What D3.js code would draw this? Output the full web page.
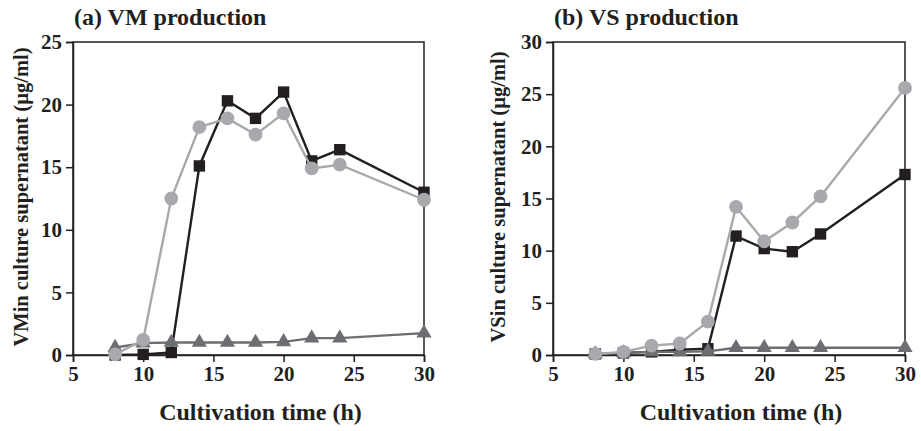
<!DOCTYPE html>
<html>
<head>
<meta charset="utf-8">
<script src="https://cdn.jsdelivr.net/npm/d3@7"></script>
<style>
  body { margin: 0; background: #fff; }
  svg text { font-family: "Liberation Serif", "Times New Roman", serif; font-weight: bold; fill: #231f20; }
</style>
</head>
<body>
<div id="chart"></div>
<script>
// Cultivation times (h)
var times = [8, 10, 12, 14, 16, 18, 20, 22, 24, 30];

// (a) VM production
var vmSquare = [0, 0.05, 0.2, 15.1, 20.3, 18.9, 21.0, 15.5, 16.4, 13.0];
var vmCircle = [0.05, 1.2, 12.5, 18.2, 18.9, 17.6, 19.3, 14.9, 15.2, 12.4];
var vmTriangle = [0.6, 0.95, 1.0, 1.0, 1.0, 1.0, 1.05, 1.35, 1.35, 1.75];

// (b) VS production
var vsSquare = [0.1, 0.2, 0.3, 0.5, 0.6, 11.4, 10.2, 9.9, 11.6, 17.3];
var vsCircle = [0.1, 0.3, 0.9, 1.1, 3.2, 14.2, 10.9, 12.7, 15.2, 25.6];
var vsTriangle = [0.1, 0.2, 0.3, 0.3, 0.35, 0.7, 0.7, 0.7, 0.7, 0.7];

var xTicks = [5, 10, 15, 20, 25, 30];
var vmTicks = [0, 5, 10, 15, 20, 25];
var vsTicks = [0, 5, 10, 15, 20, 25, 30];

var width = 921;
var height = 431;

var black = "#231f20";
var lightGray = "#a7a9ac";
var darkGray = "#6d6e71";

var svg = d3.select("#chart")
    .append("svg")
    .attr("width", width)
    .attr("height", height);

function drawPanel(opt) {
    var xScale = d3.scaleLinear().domain([5, 30]).range([opt.left, opt.right]);
    var yScale = d3.scaleLinear().domain([0, opt.yMax]).range([355, 42]);

    var g = svg.append("g");

    // frame
    g.append("rect")
        .attr("x", opt.left)
        .attr("y", 42)
        .attr("width", opt.right - opt.left)
        .attr("height", 355 - 42)
        .attr("fill", "none")
        .attr("stroke", black)
        .attr("stroke-width", 1.5);

    var xAxis = d3.axisBottom(xScale).tickValues(xTicks).tickSize(7).tickPadding(4);
    var yAxis = d3.axisLeft(yScale).tickValues(opt.yTicks).tickSize(7).tickPadding(4);

    var gx = g.append("g")
        .attr("transform", "translate(0,355)")
        .call(xAxis);
    var gy = g.append("g")
        .attr("transform", "translate(" + opt.left + ",0)")
        .call(yAxis);

    [gx, gy].forEach(function(a) {
        a.select(".domain").attr("stroke", black).attr("stroke-width", 1.5);
        a.selectAll(".tick line").attr("stroke", black).attr("stroke-width", 1.5);
        a.selectAll(".tick text")
            .style("font-size", "21px")
            .style("font-family", "'Liberation Serif', serif")
            .style("font-weight", "bold")
            .attr("fill", black);
    });

    var line = d3.line()
        .x(function(d) { return xScale(d[0]); })
        .y(function(d) { return yScale(d[1]); });

    function series(vals, color, shape) {
        var pts = times.map(function(t, i) { return [t, vals[i]]; });
        g.append("path")
            .datum(pts)
            .attr("d", line)
            .attr("fill", "none")
            .attr("stroke", color)
            .attr("stroke-width", 2.4);
        var sym = d3.symbol().type(shape.type).size(shape.size);
        g.selectAll(null)
            .data(pts)
            .enter()
            .append("path")
            .attr("d", sym)
            .attr("transform", function(d) {
                return "translate(" + xScale(d[0]) + "," + yScale(d[1]) + ")";
            })
            .attr("fill", color);
    }

    series(opt.square, black, { type: d3.symbolSquare, size: 130 });
    series(opt.triangle, darkGray, { type: d3.symbolTriangle, size: 100 });
    series(opt.circle, lightGray, { type: d3.symbolCircle, size: 150 });

    // titles
    g.append("text")
        .attr("x", opt.left + 1)
        .attr("y", 25)
        .style("font-size", "24px")
        .text(opt.title);

    g.append("text")
        .attr("x", (opt.left + opt.right) / 2 + 12)
        .attr("y", 420)
        .attr("text-anchor", "middle")
        .style("font-size", "24px")
        .text("Cultivation time (h)");

    g.append("text")
        .attr("transform", "translate(" + opt.yTitleX + ",197) rotate(-90)")
        .attr("text-anchor", "middle")
        .style("font-size", "20.5px")
        .text(opt.yTitle);
}

drawPanel({
    left: 73, right: 424, yMax: 25, yTicks: vmTicks,
    square: vmSquare, circle: vmCircle, triangle: vmTriangle,
    title: "(a) VM production",
    yTitle: "VMin culture supernatant (\u00b5g/ml)",
    yTitleX: 28
});

drawPanel({
    left: 553, right: 905, yMax: 30, yTicks: vsTicks,
    square: vsSquare, circle: vsCircle, triangle: vsTriangle,
    title: "(b) VS production",
    yTitle: "VSin culture supernatant (\u00b5g/ml)",
    yTitleX: 505
});
</script>
</body>
</html>
